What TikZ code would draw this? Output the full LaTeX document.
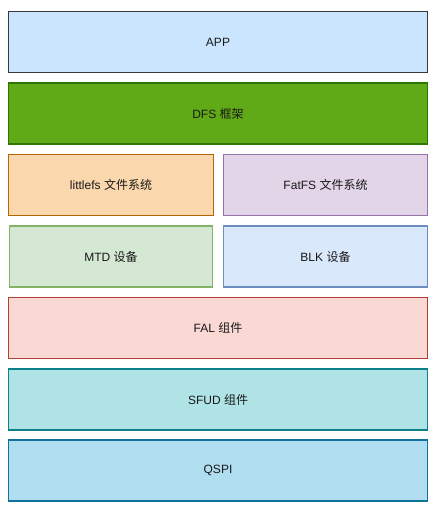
\documentclass[tikz,border=0pt]{standalone}
\usepackage{fontspec}
\setmainfont{Liberation Sans}
\newfontfamily\cjk{Noto Sans CJK SC}
\definecolor{appF}{HTML}{CCE5FF}\definecolor{appD}{HTML}{36393D}
\definecolor{dfsF}{HTML}{60A917}\definecolor{dfsD}{HTML}{2D7600}
\definecolor{lfsF}{HTML}{FAD7AC}\definecolor{lfsD}{HTML}{B46504}
\definecolor{fatF}{HTML}{E1D5E7}\definecolor{fatD}{HTML}{9673A6}
\definecolor{mtdF}{HTML}{D5E8D4}\definecolor{mtdD}{HTML}{82B366}
\definecolor{blkF}{HTML}{DAE8FC}\definecolor{blkD}{HTML}{6C8EBF}
\definecolor{falF}{HTML}{FAD9D5}\definecolor{falD}{HTML}{AE4132}
\definecolor{sfuF}{HTML}{B0E3E6}\definecolor{sfuD}{HTML}{0E8088}
\definecolor{qspF}{HTML}{B1DDF0}\definecolor{qspD}{HTML}{10739E}
\begin{document}
\begin{tikzpicture}[x=0.75pt,y=-0.75pt,
  layer/.style={draw, line width=0.9pt, font=\fontsize{9}{11}\selectfont, text=black!90, inner sep=0pt}]
\useasboundingbox (0,0) rectangle (438,511);
\fill[white] (0,0) rectangle (438,511);
\newcommand{\layerbox}[8]{%
  \draw[layer, fill=#6, draw=#7] (#2,#3) rectangle (#4,#5);
  \node[font=\fontsize{9}{11}\selectfont, text=black!90] (#1) at ({(#2+#4)/2},{(#3+#5)/2}) {#8};}
\layerbox{app}{8.5}{11.5}{427.5}{72.5}{appF}{appD}{APP}
\layerbox{dfs}{8.5}{83}{427.5}{144}{dfsF}{dfsD}{DFS {\cjk 框架}}
\layerbox{lfs}{8.5}{154.5}{213.5}{215.5}{lfsF}{lfsD}{littlefs {\cjk 文件系统}}
\layerbox{fat}{223.5}{154.5}{427.5}{215.5}{fatF}{fatD}{FatFS {\cjk 文件系统}}
\layerbox{mtd}{9.5}{226}{212.5}{287}{mtdF}{mtdD}{MTD {\cjk 设备}}
\layerbox{blk}{223.5}{226}{427.5}{287}{blkF}{blkD}{BLK {\cjk 设备}}
\layerbox{fal}{8.5}{297.5}{427.5}{358.5}{falF}{falD}{FAL {\cjk 组件}}
\layerbox{sfud}{8.5}{369}{427.5}{430}{sfuF}{sfuD}{SFUD {\cjk 组件}}
\layerbox{qspi}{8.5}{440}{427.5}{501}{qspF}{qspD}{QSPI}
\end{tikzpicture}
\end{document}
